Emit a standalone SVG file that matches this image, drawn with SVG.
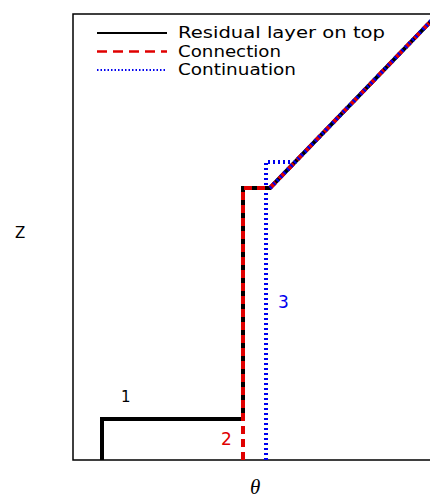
<svg xmlns="http://www.w3.org/2000/svg" width="430" height="498" viewBox="0 0 430 498">
<style>
.t{font-family:"DejaVu Sans","Liberation Sans",sans-serif;fill:#000}
.solid{fill:none;stroke:#000;stroke-width:4}
.dash{fill:none;stroke:#e00000;stroke-width:4;stroke-dasharray:8,5}
.dot{fill:none;stroke:#0000ee;stroke-width:4;stroke-dasharray:2,3}
</style>
<rect width="430" height="498" fill="#fff"/>
<g id="axes" fill="none" stroke="#000" stroke-width="1.5">
<polyline points="430,14 73,14 73,460 430,460"/>
</g>
<g id="legend">
<line x1="97" y1="33" x2="167" y2="33" stroke="#000" stroke-width="2"/>
<line x1="97" y1="51.5" x2="167" y2="51.5" stroke="#e00000" stroke-width="2.5" stroke-dasharray="10,6"/>
<line x1="97" y1="70" x2="167" y2="70" stroke="#0000ee" stroke-width="2" stroke-dasharray="1.5,2"/>
<text class="t" x="178" y="38" font-size="15" textLength="207" lengthAdjust="spacingAndGlyphs">Residual layer on top</text>
<text class="t" x="178" y="56.5" font-size="15" textLength="103" lengthAdjust="spacingAndGlyphs">Connection</text>
<text class="t" x="178" y="75" font-size="15" textLength="118" lengthAdjust="spacingAndGlyphs">Continuation</text>
</g>
<g id="connectors">
<polyline class="dot" points="266,460 266,162 292,162"/>
<polyline class="solid" points="102,460 102,419 243,419 243,188 270,188 432,20"/>
<polyline class="dash" points="243,460 243,188 270,188 432,20"/>
<line class="dot" x1="270" y1="188" x2="432" y2="20" stroke-width="3"/>
</g>
<g id="labels">
<text class="t" x="121" y="402" font-size="15">1</text>
<text class="t" x="221" y="445" font-size="17" style="fill:#e00000">2</text>
<text class="t" x="278" y="308" font-size="17" style="fill:#0000ee">3</text>
<text class="t" x="15" y="238" font-size="15">Z</text>
<text x="250" y="494" font-size="21" font-style="italic" font-family="Liberation Serif, serif">θ</text>
</g>
</svg>
